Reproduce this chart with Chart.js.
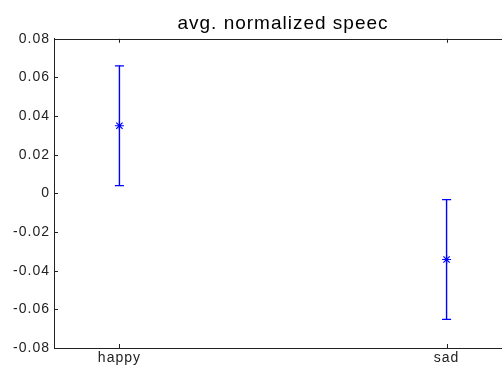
<!DOCTYPE html>
<html>
<head>
<meta charset="utf-8">
<script src="https://cdn.jsdelivr.net/npm/chart.js@4/dist/chart.umd.min.js"></script>
<style>
html,body{margin:0;padding:0;background:#fff;overflow:hidden;}
#wrap{width:560px;height:365px;position:relative;}
</style>
</head>
<body>
<div id="wrap"><canvas id="c"></canvas></div>
<script>
const categories = ['happy', 'sad'];
const means = [0.035, -0.0342];
const errors = [0.031, 0.031];
const yTicks = [-0.08, -0.06, -0.04, -0.02, 0, 0.02, 0.04, 0.06, 0.08];
const titleText = 'avg. normalized speec';

const BLUE = '#0000ff';
const AXIS = '#222222';

const datasets = [];
categories.forEach((c, i) => {
  datasets.push({
    data: [{x: i + 1, y: means[i] - errors[i]}, {x: i + 1, y: means[i] + errors[i]}],
    showLine: true,
    borderColor: BLUE,
    borderWidth: 1.4,
    pointStyle: 'line',
    pointRadius: 4.5,
    pointBorderColor: BLUE,
    pointBorderWidth: 1.4,
    pointHoverRadius: 4.5
  });
});
datasets.push({
  data: categories.map((c, i) => ({x: i + 1, y: means[i]})),
  showLine: false,
  pointStyle: 'star',
  pointRadius: 4.5,
  pointBorderColor: BLUE,
  pointBackgroundColor: BLUE,
  pointBorderWidth: 1.2,
  pointHoverRadius: 4.5
});

const spacingPlugin = {
  id: 'spacing',
  afterLayout(chart) {
    if (chart.titleBlock) {
      chart.titleBlock.left = chart.chartArea.left;
      chart.titleBlock.right = chart.chartArea.right;
    }
  },
  beforeDraw(chart) { chart.ctx.letterSpacing = '1px'; }
};

const ticksPlugin = {
  id: 'matlabTicks',
  afterDraw(chart) {
    const ctx = chart.ctx;
    const a = chart.chartArea;
    const xs = chart.scales.x, ys = chart.scales.y;
    ctx.save();
    ctx.strokeStyle = AXIS;
    ctx.lineWidth = 1;
    ctx.beginPath();
    ctx.moveTo(a.left, Math.round(a.top) + 0.5);
    ctx.lineTo(a.right, Math.round(a.top) + 0.5);
    ys.ticks.forEach(t => {
      const y = Math.round(ys.getPixelForValue(t.value)) + 0.5;
      ctx.moveTo(a.left, y);
      ctx.lineTo(a.left + 4, y);
    });
    xs.ticks.forEach(t => {
      const x = Math.round(xs.getPixelForValue(t.value)) + 0.5;
      ctx.moveTo(x, a.bottom);
      ctx.lineTo(x, a.bottom - 4);
      ctx.moveTo(x, a.top);
      ctx.lineTo(x, a.top + 4);
    });
    ctx.stroke();
    ctx.restore();
  }
};

new Chart(document.getElementById('c'), {
  type: 'scatter',
  data: { datasets },
  options: {
    responsive: true,
    maintainAspectRatio: false,
    animation: false,
    events: [],
    layout: { padding: { left: 0, top: 0, bottom: 0, right: 48 } },
    plugins: {
      legend: { display: false },
      tooltip: { enabled: false },
      title: {
        display: true,
        text: titleText,
        color: '#000',
        font: { family: 'Liberation Sans', size: 19, weight: 'normal', lineHeight: 1.2 },
        padding: { top: 12, bottom: 4 }
      }
    },
    scales: {
      x: {
        type: 'linear',
        min: 0.8,
        max: 2.2,
        afterBuildTicks(scale) { scale.ticks = categories.map((c, i) => ({ value: i + 1 })); },
        afterFit(scale) { scale.height = 17; },
        grid: { display: true, drawOnChartArea: false, drawTicks: false },
        border: { display: true, color: AXIS, width: 1 },
        ticks: {
          padding: 2,
          color: '#222',
          font: { family: 'Liberation Sans', size: 14 },
          maxRotation: 0,
          callback(v) { return categories[Math.round(v) - 1]; }
        }
      },
      y: {
        type: 'linear',
        min: -0.08,
        max: 0.08,
        afterBuildTicks(scale) { scale.ticks = yTicks.map(v => ({ value: v })); },
        afterFit(scale) { scale.width = 54; },
        grid: { display: true, drawOnChartArea: false, drawTicks: false },
        border: { display: true, color: AXIS, width: 1 },
        ticks: {
          padding: 4,
          color: '#222',
          font: { family: 'Liberation Sans', size: 14 },
          callback(v) { return String(Number(v.toFixed(2))); }
        }
      }
    }
  },
  plugins: [spacingPlugin, ticksPlugin]
});
</script>
</body>
</html>
